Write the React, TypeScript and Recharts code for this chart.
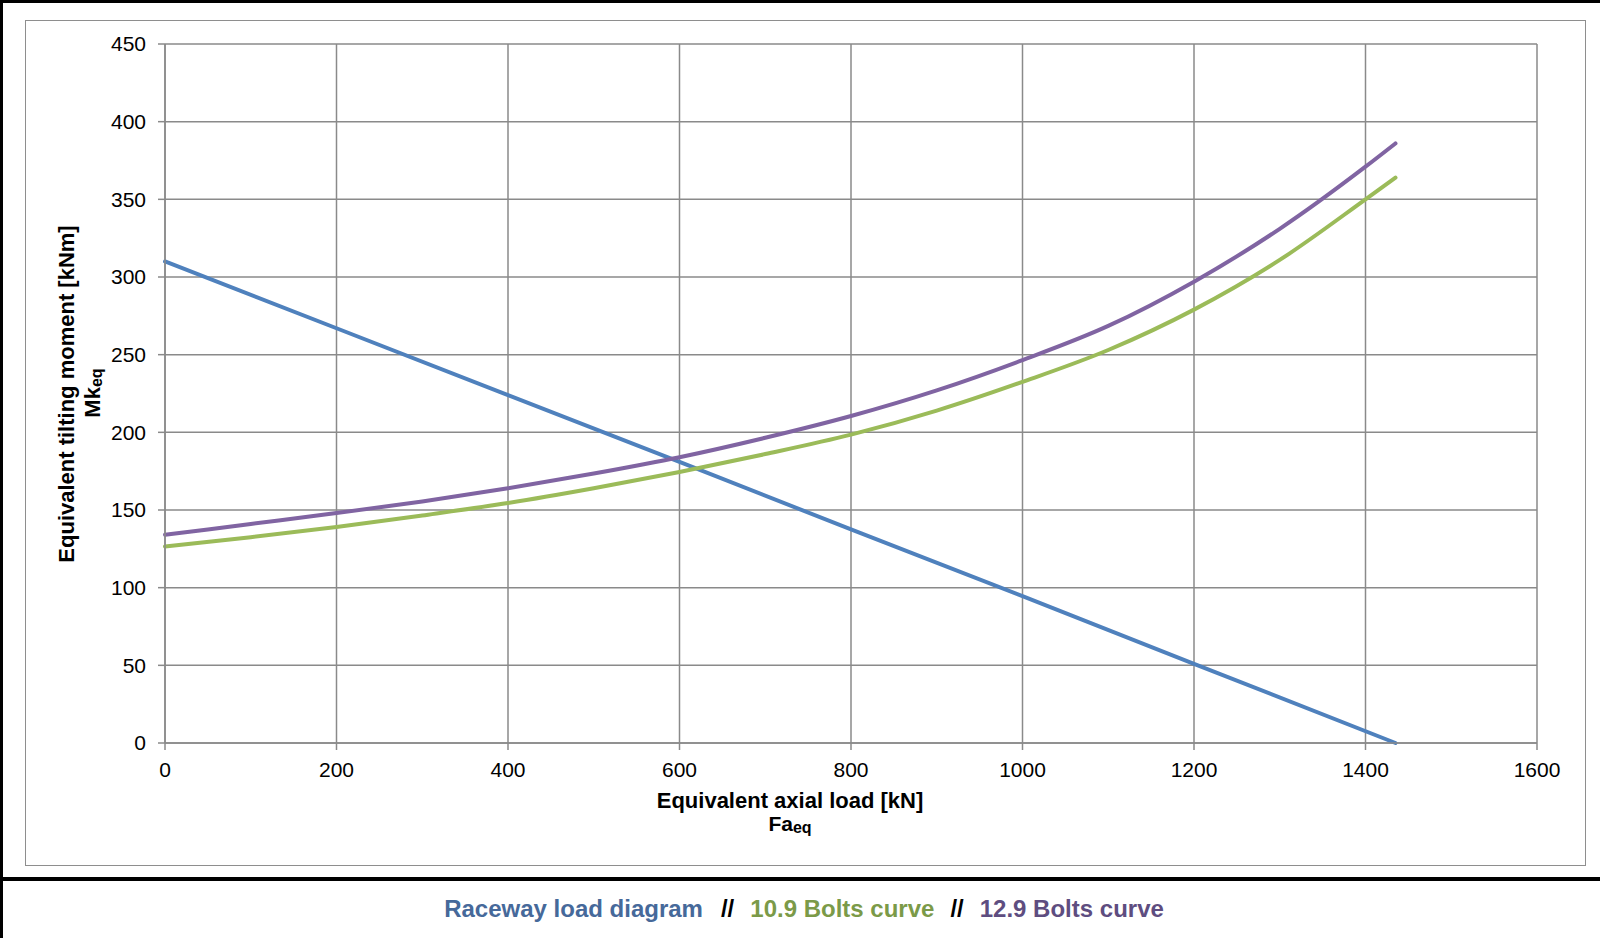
import React from 'react';
import { LineChart, Line, XAxis, YAxis, CartesianGrid } from 'recharts';

// equivalent axial load [kN] sample points for the bolt curves
const boltLoads = [0, 100, 200, 300, 400, 500, 600, 700, 800, 900, 1000, 1100, 1200, 1300, 1400, 1435];
// 10.9 bolts curve, Mk [kNm]
const bolts109 = [126.5, 132.5, 139, 146.5, 154.5, 164, 174.5, 186, 198.5, 214, 232.5, 253, 279, 311, 350, 364];
// 12.9 bolts curve, Mk [kNm]
const bolts129 = [134, 141, 148, 155.5, 164, 173.5, 184, 196.5, 210.5, 227, 246.5, 268.5, 297, 331, 371, 386];

// raceway load diagram
const racewayLoads = [0, 200, 400, 600, 800, 1000, 1200, 1435];
const racewayMoments = [310, 267, 224, 181, 137.5, 94.5, 51, 0];

const xTicks = [0, 200, 400, 600, 800, 1000, 1200, 1400, 1600];
const yTicks = [0, 50, 100, 150, 200, 250, 300, 350, 400, 450];

const raceway = racewayLoads.map((f, i) => ({ f, m: racewayMoments[i] }));
const curve109 = boltLoads.map((f, i) => ({ f, m: bolts109[i] }));
const curve129 = boltLoads.map((f, i) => ({ f, m: bolts129[i] }));

const FONT = '"Liberation Sans", Arial, sans-serif';
const GRID = '#8a8a8a';

const XTitle = () => (
  <g fontFamily={FONT} fontWeight="bold" fill="#000" textAnchor="middle">
    <text x={790} y={807.5} fontSize={22}>Equivalent axial load [kN]</text>
    <text x={790} y={831} fontSize={21}>
      Fa<tspan fontSize={16} dy={2}>eq</tspan>
    </text>
  </g>
);

const YTitle = () => (
  <g fontFamily={FONT} fontWeight="bold" fill="#000" textAnchor="middle">
    <text x={73.5} y={394} fontSize={22} transform="rotate(-90 73.5 394)">
      Equivalent tilting moment [kNm]
    </text>
    <text x={100} y={393} fontSize={22} transform="rotate(-90 100 393)">
      Mk<tspan fontSize={16} dy={2}>eq</tspan>
    </text>
  </g>
);

export default function App() {
  return (
    <div
      style={{
        position: 'absolute',
        top: 0,
        left: 0,
        width: 1600,
        height: 938,
        background: '#fff',
        overflow: 'hidden',
        fontFamily: FONT,
      }}
    >
      {/* outer frame */}
      <div style={{ position: 'absolute', left: 0, top: 0, width: 3, height: 938, background: '#000' }} />
      <div style={{ position: 'absolute', left: 0, top: 0, width: 1600, height: 3, background: '#000' }} />
      <div style={{ position: 'absolute', left: 0, top: 877, width: 1600, height: 4, background: '#000' }} />
      {/* chart area border */}
      <div
        style={{
          position: 'absolute',
          left: 25,
          top: 20,
          width: 1561,
          height: 846,
          border: '1.5px solid #8e8e8e',
          boxSizing: 'border-box',
        }}
      />
      <div style={{ position: 'absolute', left: 0, top: 0 }}>
        <LineChart width={1600} height={938} margin={{ top: 44, right: 63, left: 0, bottom: 135 }}>
          <CartesianGrid stroke={GRID} strokeWidth={1.5} />
          <XAxis
            dataKey="f"
            type="number"
            domain={[0, 1600]}
            ticks={xTicks}
            interval={0}
            height={60}
            tickSize={7}
            tickMargin={12}
            tick={{ fontSize: 21, fill: '#000', fontFamily: FONT }}
            axisLine={{ stroke: GRID, strokeWidth: 1.5 }}
            tickLine={{ stroke: GRID, strokeWidth: 1.5 }}
            label={{ content: () => <XTitle /> }}
          />
          <YAxis
            dataKey="m"
            type="number"
            domain={[0, 450]}
            ticks={yTicks}
            interval={0}
            width={165}
            tickSize={7}
            tickMargin={12}
            tick={{ fontSize: 21, fill: '#000', fontFamily: FONT }}
            axisLine={{ stroke: GRID, strokeWidth: 1.5 }}
            tickLine={{ stroke: GRID, strokeWidth: 1.5 }}
            label={{ content: () => <YTitle /> }}
          />
          <Line
            data={raceway}
            dataKey="m"
            type="linear"
            stroke="#4F81BD"
            strokeWidth={4}
            strokeLinecap="round"
            dot={false}
            isAnimationActive={false}
          />
          <Line
            data={curve109}
            dataKey="m"
            type="monotone"
            stroke="#9BBB59"
            strokeWidth={4}
            strokeLinecap="round"
            dot={false}
            isAnimationActive={false}
          />
          <Line
            data={curve129}
            dataKey="m"
            type="monotone"
            stroke="#8064A2"
            strokeWidth={4}
            strokeLinecap="round"
            dot={false}
            isAnimationActive={false}
          />
        </LineChart>
      </div>
      {/* legend */}
      <div
        style={{
          position: 'absolute',
          left: 4,
          top: 895,
          width: 1600,
          textAlign: 'center',
          fontSize: 24,
          lineHeight: '28px',
          fontWeight: 'bold',
          whiteSpace: 'nowrap',
        }}
      >
        <span style={{ color: '#46699A' }}>Raceway load diagram</span>
        <span style={{ color: '#000', margin: '0 16px 0 18px' }}>//</span>
        <span style={{ color: '#7B9A48' }}>10.9 Bolts curve</span>
        <span style={{ color: '#000', margin: '0 16px 0 16px' }}>//</span>
        <span style={{ color: '#5E4D80' }}>12.9 Bolts curve</span>
      </div>
    </div>
  );
}
